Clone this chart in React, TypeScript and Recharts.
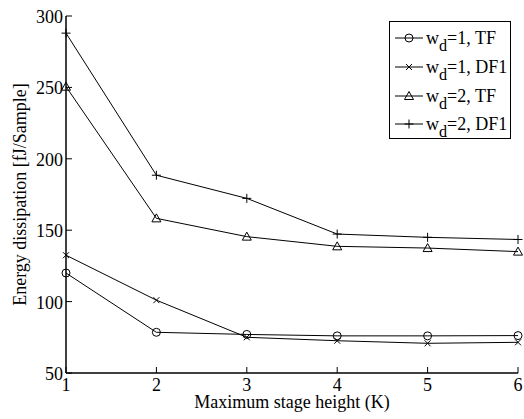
import React from "react";
import {
  LineChart,
  Line,
  XAxis,
  YAxis,
  Legend,
  Label,
} from "recharts";

// Stage heights on the x axis
const stageHeights = [1, 2, 3, 4, 5, 6];

// Energy dissipation per sample [fJ]
const wd1TF = [120, 78.5, 77, 76, 76, 76.2];
const wd1DF1 = [132.5, 101, 75, 72.6, 70.8, 71.5];
const wd2TF = [250.5, 158.3, 145.5, 138.7, 137.5, 135];
const wd2DF1 = [288, 188.5, 172.3, 147.3, 145, 143.5];

const xTicks = [1, 2, 3, 4, 5, 6];
const yTicks = [50, 100, 150, 200, 250, 300];

const FONT = '"Liberation Serif", "Times New Roman", serif';

type MarkerKind = "circle" | "cross" | "triangle" | "plus";

const series: { key: string; wd: number; form: string; marker: MarkerKind }[] = [
  { key: "wd1TF", wd: 1, form: "TF", marker: "circle" },
  { key: "wd1DF1", wd: 1, form: "DF1", marker: "cross" },
  { key: "wd2TF", wd: 2, form: "TF", marker: "triangle" },
  { key: "wd2DF1", wd: 2, form: "DF1", marker: "plus" },
];

const data = stageHeights.map((k, i) => ({
  k,
  wd1TF: wd1TF[i],
  wd1DF1: wd1DF1[i],
  wd2TF: wd2TF[i],
  wd2DF1: wd2DF1[i],
}));

function Marker({ kind, cx, cy }: { kind: MarkerKind; cx: number; cy: number }) {
  const s = { stroke: "#000", strokeWidth: 1, fill: "none" };
  switch (kind) {
    case "circle":
      return <circle cx={cx} cy={cy} r={4} {...s} />;
    case "cross":
      return (
        <path
          d={`M${cx - 3},${cy - 3}L${cx + 3},${cy + 3}M${cx - 3},${cy + 3}L${cx + 3},${cy - 3}`}
          {...s}
        />
      );
    case "triangle":
      return (
        <path d={`M${cx},${cy - 4.5}L${cx + 4.5},${cy + 3.5}L${cx - 4.5},${cy + 3.5}Z`} {...s} />
      );
    default:
      return <path d={`M${cx - 4.5},${cy}L${cx + 4.5},${cy}M${cx},${cy - 4.5}L${cx},${cy + 4.5}`} {...s} />;
  }
}

// ticks point into the plot box, matlab style
const BottomTick = (props: any) => {
  const { x, y, payload } = props;
  return (
    <g>
      <line x1={x} y1={y} x2={x} y2={y - 6} stroke="#000" />
      <text x={x} y={y + 18} textAnchor="middle" fontFamily={FONT} fontSize={18} fill="#000">
        {payload.value}
      </text>
    </g>
  );
};

const LeftTick = (props: any) => {
  const { x, y, payload } = props;
  return (
    <g>
      <line x1={x} y1={y} x2={x + 6} y2={y} stroke="#000" />
      <text x={x - 3} y={y + 7} textAnchor="end" fontFamily={FONT} fontSize={18} fill="#000">
        {payload.value}
      </text>
    </g>
  );
};

const TopTick = (props: any) => {
  const { x, y } = props;
  return <line x1={x} y1={y} x2={x} y2={y + 6} stroke="#000" />;
};

const RightTick = (props: any) => {
  const { x, y } = props;
  return <line x1={x} y1={y} x2={x - 6} y2={y} stroke="#000" />;
};

const LegendBox = () => (
  <div
    style={{
      border: "1px solid #000",
      background: "#fff",
      width: 122,
      height: 118,
      boxSizing: "border-box",
      padding: "2px 0 0 0",
      fontFamily: FONT,
      fontSize: 18,
      color: "#000",
    }}
  >
    {series.map((s) => (
      <div key={s.key} style={{ display: "flex", alignItems: "center", height: 28.7 }}>
        <svg width={36} height={20} style={{ flex: "none" }}>
          <line x1={5} y1={10} x2={33} y2={10} stroke="#000" />
          <Marker kind={s.marker} cx={19} cy={10} />
        </svg>
        <span style={{ whiteSpace: "nowrap", lineHeight: 1 }}>
          w
          <sub style={{ fontSize: "0.9em", verticalAlign: "-0.45em", lineHeight: 0 }}>d</sub>={s.wd},{" "}
          {s.form}
        </span>
      </div>
    ))}
  </div>
);

export default function App() {
  return (
    <div style={{ position: "absolute", left: 0, top: 0, background: "#fff" }}>
      <LineChart
        width={524}
        height={419}
        data={data}
        margin={{ top: 16, right: 6, left: 0, bottom: 0 }}
      >
        <XAxis
          dataKey="k"
          type="number"
          domain={[1, 6]}
          ticks={xTicks}
          height={46}
          tickSize={0}
          tickMargin={0}
          tick={<BottomTick />}
          axisLine={{ stroke: "#000", strokeWidth: 1.5 }}
        >
          <Label
            value="Maximum stage height (K)"
            position="insideBottom"
            offset={11}
            style={{ fontFamily: FONT, fontSize: 18, fill: "#000" }}
          />
        </XAxis>
        <XAxis
          xAxisId="top"
          orientation="top"
          dataKey="k"
          type="number"
          domain={[1, 6]}
          ticks={xTicks}
          height={0}
          tickSize={0}
          tickMargin={0}
          tick={<TopTick />}
          axisLine={{ stroke: "#000", strokeWidth: 1.5 }}
        />
        <YAxis
          type="number"
          domain={[50, 300]}
          ticks={yTicks}
          width={66}
          tickSize={0}
          tickMargin={0}
          tick={<LeftTick />}
          axisLine={{ stroke: "#000", strokeWidth: 1.5 }}
        >
          <Label
            value="Energy dissipation [fJ/Sample]"
            angle={-90}
            position="center"
            dx={-13}
            style={{ fontFamily: FONT, fontSize: 18, fill: "#000", textAnchor: "middle" }}
          />
        </YAxis>
        <YAxis
          yAxisId="right"
          orientation="right"
          type="number"
          domain={[50, 300]}
          ticks={yTicks}
          width={0}
          tickSize={0}
          tickMargin={0}
          tick={<RightTick />}
          axisLine={{ stroke: "#000", strokeWidth: 1.5 }}
        />
        <Legend
          layout="vertical"
          verticalAlign="middle"
          align="center"
          wrapperStyle={{ top: 21, left: 389, width: 124 }}
          content={() => <LegendBox />}
        />
        {series.map((s) => (
          <Line
            key={s.key}
            dataKey={s.key}
            name={`wd=${s.wd}, ${s.form}`}
            stroke="#000"
            strokeWidth={1}
            isAnimationActive={false}
            dot={(p: any) => (
              <Marker key={`${s.key}-${p.index}`} kind={s.marker} cx={p.cx} cy={p.cy} />
            )}
            activeDot={false}
          />
        ))}
      </LineChart>
    </div>
  );
}
